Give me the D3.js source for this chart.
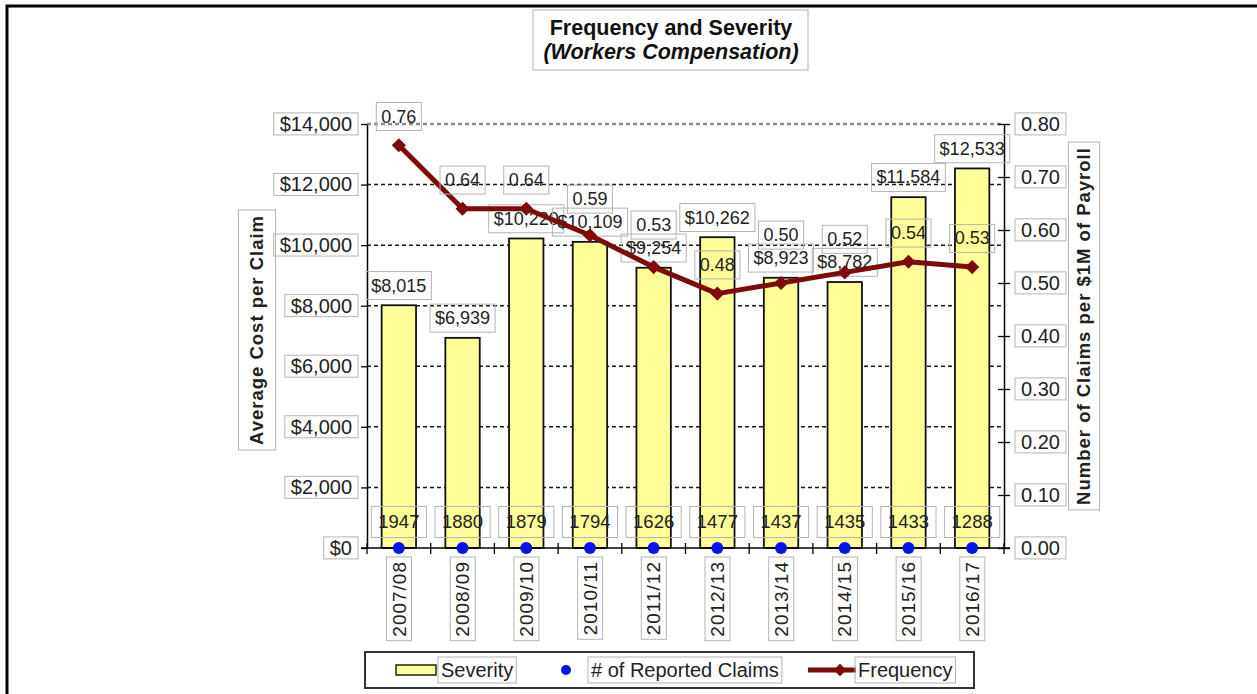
<!DOCTYPE html>
<html>
<head>
<meta charset="utf-8">
<script src="https://cdn.jsdelivr.net/npm/d3@7/dist/d3.min.js"></script>
<style>
  body { margin: 0; background: #fff; }
  svg { display: block; font-family: "Liberation Sans", Arial, sans-serif; }
</style>
</head>
<body>
<svg id="chart" width="1257" height="694"></svg>
<script>
// data
var years = ["2007/08", "2008/09", "2009/10", "2010/11", "2011/12", "2012/13", "2013/14", "2014/15", "2015/16", "2016/17"];
var severity = [8015, 6939, 10220, 10109, 9254, 10262, 8923, 8782, 11584, 12533];
var claims = [1947, 1880, 1879, 1794, 1626, 1477, 1437, 1435, 1433, 1288];
var frequency = [0.76, 0.64, 0.64, 0.59, 0.53, 0.48, 0.50, 0.52, 0.54, 0.53];
var costTicks = [0, 2000, 4000, 6000, 8000, 10000, 12000, 14000];
var freqTicks = [0, 0.1, 0.2, 0.3, 0.4, 0.5, 0.6, 0.7, 0.8];

var svg = d3.select("#chart"),
    pLeft = 367, pRight = 1004, pTop = 124, pBottom = 548;

var x = d3.scaleBand().domain(years).range([pLeft, pRight])
    .paddingInner(0.46).paddingOuter(0.23);
var xEdge = d3.scaleBand().domain(years).range([pLeft, pRight]);
var yL = d3.scaleLinear().domain([0, 14000]).range([pBottom, pTop]);
var yR = d3.scaleLinear().domain([0, 0.8]).range([pBottom, pTop]);
function cx(i) { return x(years[i]) + x.bandwidth() / 2; }

// grey frame round a text, same transform as the text
function boxText(sel, px, py, stroke) {
    sel.each(function () {
        var b = this.getBBox(), node = this;
        d3.select(this.parentNode).insert("rect", function () { return node; })
            .attr("x", b.x - px).attr("y", b.y - py)
            .attr("width", b.width + 2 * px).attr("height", b.height + 2 * py)
            .attr("transform", d3.select(this).attr("transform"))
            .attr("fill", "none")
            .attr("stroke", stroke || "#b4b4b4");
    });
}

// page frame
svg.append("path").attr("d", "M7,694V6H1257")
    .attr("fill", "none").attr("stroke", "#000").attr("stroke-width", 3);

// title
var title = svg.append("g");
title.append("rect").attr("x", 533).attr("y", 10).attr("width", 275).attr("height", 60)
    .attr("fill", "none").attr("stroke", "#b4b4b4");
title.append("text").attr("x", 671).attr("y", 35).attr("text-anchor", "middle")
    .style("font-size", "21.5px").style("font-weight", "bold").attr("fill", "#111")
    .text("Frequency and Severity");
title.append("text").attr("x", 671).attr("y", 59).attr("text-anchor", "middle")
    .style("font-size", "21.5px").style("font-weight", "bold").style("font-style", "italic")
    .attr("fill", "#111").text("(Workers Compensation)");

// gridlines
svg.append("g").selectAll("line")
    .data(costTicks.filter(function (d) { return d > 0; }))
    .enter().append("line")
    .attr("x1", pLeft).attr("x2", pRight)
    .attr("y1", function (d) { return yL(d); })
    .attr("y2", function (d) { return yL(d); })
    .attr("stroke", function (d) { return d == 14000 ? "#8a8a8a" : "#1a1a1a"; })
    .attr("stroke-width", function (d) { return d == 14000 ? 2.5 : 1.5; })
    .attr("stroke-dasharray", "4,3");

// bars
svg.append("g").selectAll("rect")
    .data(severity)
    .enter().append("rect")
    .attr("x", function (d, i) { return x(years[i]); })
    .attr("y", function (d) { return yL(d); })
    .attr("width", x.bandwidth())
    .attr("height", function (d) { return pBottom - yL(d); })
    .attr("fill", "#ffff99")
    .attr("stroke", "#111")
    .attr("stroke-width", 1.8);

// left and right axes
var axL = svg.append("g").attr("transform", "translate(" + pLeft + ",0)")
    .call(d3.axisLeft(yL).tickValues(costTicks).tickSizeInner(6).tickSizeOuter(0).tickPadding(9)
        .tickFormat(function (d) { return "$" + d3.format(",")(d); }));
var axR = svg.append("g").attr("transform", "translate(" + pRight + ",0)")
    .call(d3.axisRight(yR).tickValues(freqTicks).tickSizeInner(6).tickSizeOuter(0).tickPadding(11)
        .tickFormat(d3.format(".2f")));
axR.selectAll(".tick").append("line").attr("x1", -6).attr("x2", 0).attr("stroke", "#000");
[axL, axR].forEach(function (ax) {
    ax.attr("font-family", null).attr("font-size", null);
    ax.select(".domain").attr("stroke-width", 1.5);
    ax.selectAll(".tick line").attr("stroke-width", 1.3);
    ax.selectAll(".tick text").style("font-size", "20px").attr("fill", "#222");
    boxText(ax.selectAll(".tick text"), 6, 0);
});

// bottom axis
svg.append("line").attr("x1", pLeft - 6).attr("x2", pRight + 6)
    .attr("y1", pBottom).attr("y2", pBottom).attr("stroke", "#000").attr("stroke-width", 1.5);
svg.append("g").selectAll("line")
    .data(years.concat(["end"]))
    .enter().append("line")
    .attr("x1", function (d) { return d == "end" ? pRight : xEdge(d); })
    .attr("x2", function (d) { return d == "end" ? pRight : xEdge(d); })
    .attr("y1", pBottom - 5).attr("y2", pBottom + 6)
    .attr("stroke", "#000").attr("stroke-width", 1.3);
var axB = svg.append("g").attr("transform", "translate(0," + pBottom + ")")
    .call(d3.axisBottom(x).tickSize(0));
axB.attr("font-family", null).attr("font-size", null);
axB.select(".domain").remove();
axB.selectAll(".tick text")
    .attr("transform", "rotate(-90)")
    .attr("x", -13).attr("y", 0).attr("dy", "0.35em")
    .style("text-anchor", "end").style("font-size", "19px").style("letter-spacing", "1px")
    .attr("fill", "#222");
boxText(axB.selectAll(".tick text"), 4, 2);

// axis titles
var tl = svg.append("g");
tl.append("text").attr("transform", "translate(257,330) rotate(-90)")
    .attr("text-anchor", "middle").attr("dy", "0.35em")
    .style("font-size", "18.5px").style("font-weight", "bold").style("letter-spacing", "1px")
    .attr("fill", "#222").text("Average Cost  per Claim");
boxText(tl.selectAll("text"), 5, 8);
var tr = svg.append("g");
tr.append("text").attr("transform", "translate(1084,326) rotate(-90)")
    .attr("text-anchor", "middle").attr("dy", "0.35em")
    .style("font-size", "18.5px").style("font-weight", "bold").style("letter-spacing", "1px")
    .attr("fill", "#222").text("Number of Claims per $1M of Payroll");
boxText(tr.selectAll("text"), 5, 5);

// severity labels
var sevY = severity.map(function (d) { return yL(d) - 20; });
var sevLab = svg.append("g").selectAll("text")
    .data(severity)
    .enter().append("text")
    .attr("x", function (d, i) { return cx(i); })
    .attr("y", function (d, i) { return sevY[i]; })
    .attr("dy", "0.35em").attr("text-anchor", "middle")
    .style("font-size", "18px").attr("fill", "#222")
    .text(function (d) { return "$" + d3.format(",")(d); });
boxText(sevLab, 5, 4);

// frequency line
var line = d3.line()
    .x(function (d, i) { return cx(i); })
    .y(function (d) { return yR(d); });
svg.append("path").datum(frequency)
    .attr("d", line).attr("fill", "none")
    .attr("stroke", "#7e0a0a").attr("stroke-width", 5).attr("stroke-linejoin", "round");
svg.append("g").selectAll("path")
    .data(frequency)
    .enter().append("path")
    .attr("d", d3.symbol().type(d3.symbolSquare).size(100))
    .attr("transform", function (d, i) {
        return "translate(" + cx(i) + "," + yR(d) + ") rotate(45)";
    })
    .attr("fill", "#7e0a0a");

// frequency labels, pushed above the severity label when they would collide
var freqLab = svg.append("g").selectAll("text")
    .data(frequency)
    .enter().append("text")
    .attr("x", function (d, i) { return cx(i); })
    .attr("y", function (d, i) {
        var y = yR(d) - 29;
        return Math.abs(y - sevY[i]) < 23 ? sevY[i] - 23 : y;
    })
    .attr("dy", "0.35em").attr("text-anchor", "middle")
    .style("font-size", "18px").attr("fill", "#222")
    .text(function (d) { return d3.format(".2f")(d); });
boxText(freqLab, 5, 4);

// reported claims: dots on the axis with the count above
svg.append("g").selectAll("circle")
    .data(claims)
    .enter().append("circle")
    .attr("cx", function (d, i) { return cx(i); })
    .attr("cy", yR(0))
    .attr("r", 6)
    .attr("fill", "#0a14e6");
var claimLab = svg.append("g").selectAll("text")
    .data(claims)
    .enter().append("text")
    .attr("x", function (d, i) { return cx(i); })
    .attr("y", yR(0) - 26)
    .attr("dy", "0.35em").attr("text-anchor", "middle")
    .style("font-size", "18.5px").attr("fill", "#222")
    .text(function (d) { return d; });
boxText(claimLab, 7, 5);

// legend
var lg = svg.append("g");
lg.append("rect").attr("x", 365).attr("y", 652).attr("width", 609).attr("height", 36)
    .attr("fill", "#fff").attr("stroke", "#333").attr("stroke-width", 2);
lg.append("rect").attr("x", 396).attr("y", 665).attr("width", 40).attr("height", 10)
    .attr("fill", "#ffff99").attr("stroke", "#222").attr("stroke-width", 1.5);
lg.append("circle").attr("cx", 566).attr("cy", 670).attr("r", 5).attr("fill", "#0a14e6");
lg.append("line").attr("x1", 808).attr("x2", 856).attr("y1", 670).attr("y2", 670)
    .attr("stroke", "#7e0a0a").attr("stroke-width", 5);
lg.append("path").attr("d", d3.symbol().type(d3.symbolSquare).size(80))
    .attr("transform", "translate(840,670) rotate(45)").attr("fill", "#7e0a0a");
var lgText = lg.selectAll("text.lab")
    .data([["Severity", 441], ["# of Reported Claims", 591], ["Frequency", 858]])
    .enter().append("text").attr("class", "lab")
    .attr("x", function (d) { return d[1]; }).attr("y", 670).attr("dy", "0.35em")
    .style("font-size", "20px").attr("fill", "#222")
    .text(function (d) { return d[0]; });
boxText(lgText, 3, 2);
</script>
</body>
</html>
